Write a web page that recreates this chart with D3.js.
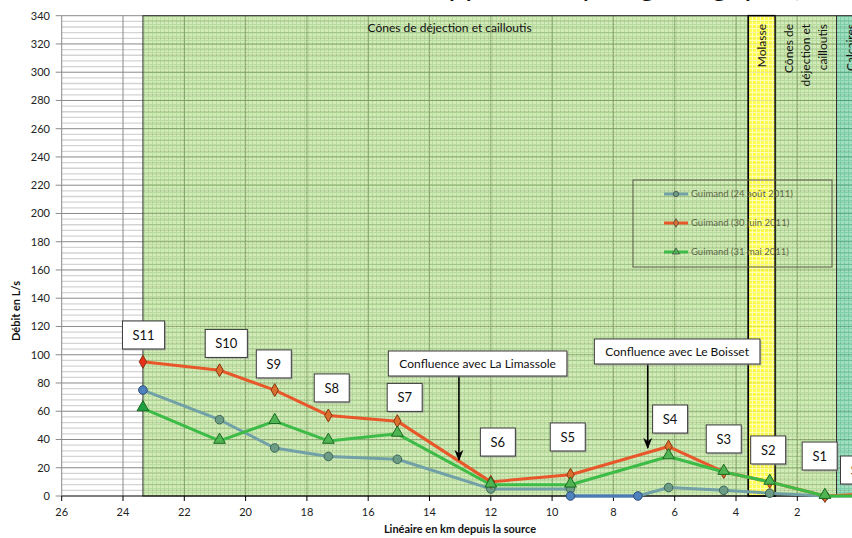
<!DOCTYPE html>
<html>
<head>
<meta charset="utf-8">
<script src="https://cdn.jsdelivr.net/npm/d3@7/dist/d3.min.js"></script>
<style>
  body { margin: 0; background: #fff; }
  svg { display: block; font-family: Lato, "Open Sans", sans-serif; }
</style>
</head>
<body>
<svg id="chart" width="852" height="538"></svg>
<script>
// Data (km from the source, flow in L/s)
var seriesNames = ["Guimand (24 août 2011)", "Guimand (30 juin 2011)", "Guimand (31 mai 2011)"];

var kmAout = [23.35, 20.85, 19.05, 17.3, 15.05, 12.0, 9.4, 9.4, 7.2, 6.2, 4.4, 2.9, 1.1, 0];
var debitAout = [75, 54, 34, 28, 26, 5, 5, 0, 0, 6, 4, 2, 0, 0];

var kmJuin = [23.35, 20.85, 19.05, 17.3, 15.05, 12.0, 9.4, 6.2, 4.4, 2.9, 1.1, 0];
var debitJuin = [95, 89, 75, 57, 53, 10, 15, 35, 17, 10, 0, 1];

var kmMai = [23.35, 20.85, 19.05, 17.3, 15.05, 12.0, 9.4, 6.2, 4.4, 2.9, 1.1, 0];
var debitMai = [62, 39, 53, 39, 44, 8, 8, 28, 17, 10, 0, 0];

// Station labels (position of the boxes, in km / L/s)
var stations = ["S11", "S10", "S9", "S8", "S7", "S6", "S5", "S4", "S3", "S2", "S1", "S0"];
var stationKm = [23.33, 20.63, 19.08, 17.19, 14.81, 11.77, 9.49, 6.15, 4.40, 2.95, 1.27, 0.02];
var stationQ = [114, 108, 93.5, 76.5, 69.8, 38.2, 41.8, 54.5, 40.4, 32.6, 28.3, 18.4];

// Confluences
var confNames = ["Confluence avec La Limassole", "Confluence avec Le Boisset"];
var confBoxKm = [12.43, 5.92];
var confBoxQ = [93.8, 102.3];
var confKm = [13.04, 6.88];
var confQ = [25.5, 34];

// Geology along the river
var zoneLabels = [["Cônes de déjection et cailloutis"], ["Molasse"], ["Cônes de", "déjection et", "cailloutis"], ["Calcaires"]];
var zoneFrom = [23.35, 3.6, 2.72, 0.72];
var zoneTo = [3.6, 2.72, 0.72, -1];

// Axes
var xTicks = [26, 24, 22, 20, 18, 16, 14, 12, 10, 8, 6, 4, 2];
var yTicks = d3.range(0, 341, 20);

var svg = d3.select("#chart");
var x = d3.scaleLinear().domain([26, 0]).range([61.7, 858.6]);
var y = d3.scaleLinear().domain([0, 340]).range([496, 15.7]);

var defs = svg.append("defs");
function addPattern(id, base, line) {
  var p = defs.append("pattern")
    .attr("id", id)
    .attr("width", 4).attr("height", 4)
    .attr("patternUnits", "userSpaceOnUse");
  p.append("rect").attr("width", 4).attr("height", 4).attr("fill", base);
  p.append("path").attr("d", "M0,0.5H4M0.5,0V4")
    .attr("stroke", line).attr("stroke-width", 1);
}
addPattern("pGreen", "#a2d46a", "#66b52e");
addPattern("pYellow", "#ffff1a", "#ffff99");
addPattern("pTeal", "#52c68c", "#18a864");

var arrow = defs.append("marker")
  .attr("id", "arrow")
  .attr("viewBox", "0 0 10 10")
  .attr("refX", 9).attr("refY", 5)
  .attr("markerWidth", 7).attr("markerHeight", 7)
  .attr("orient", "auto");
arrow.append("path").attr("d", "M0,1L10,5L0,9L3,5Z").attr("fill", "#000");

// Gridlines
var grid = svg.append("g");
grid.selectAll(".minor")
  .data(d3.range(4, 340, 4).filter(function(v) { return v % 20 !== 0; }))
  .enter().append("line")
  .attr("x1", x(26)).attr("x2", 852)
  .attr("y1", function(d) { return y(d); }).attr("y2", function(d) { return y(d); })
  .attr("stroke", "#d4d4d4").attr("stroke-width", 1.3);
grid.selectAll(".major")
  .data(yTicks.filter(function(v) { return v > 0; }))
  .enter().append("line")
  .attr("x1", x(26)).attr("x2", 852)
  .attr("y1", function(d) { return y(d); }).attr("y2", function(d) { return y(d); })
  .attr("stroke", "#8a8a8a").attr("stroke-width", 1);
grid.selectAll(".vert")
  .data(xTicks.filter(function(v) { return v < 26; }))
  .enter().append("line")
  .attr("x1", function(d) { return x(d); }).attr("x2", function(d) { return x(d); })
  .attr("y1", y(0)).attr("y2", y(340))
  .attr("stroke", "#8a8a8a").attr("stroke-width", 1);

// Geology zones (semi transparent, gridlines show through)
var zoneFill = ["url(#pGreen)", "url(#pYellow)", "url(#pGreen)", "url(#pTeal)"];
var zoneOpacity = [0.47, 0.75, 0.47, 0.55];
var zones = svg.append("g");
zoneLabels.forEach(function(lbl, i) {
  zones.append("rect")
    .attr("x", x(zoneFrom[i])).attr("y", y(340))
    .attr("width", x(zoneTo[i]) - x(zoneFrom[i]))
    .attr("height", y(0) - y(340))
    .attr("fill", zoneFill[i])
    .attr("opacity", zoneOpacity[i]);
});
zoneLabels.forEach(function(lbl, i) {
  zones.append("rect")
    .attr("x", x(zoneFrom[i])).attr("y", y(340))
    .attr("width", x(zoneTo[i]) - x(zoneFrom[i]))
    .attr("height", y(0) - y(340))
    .attr("fill", "none")
    .attr("stroke", i === 1 ? "#000" : "#333")
    .attr("stroke-width", i === 1 ? 1.6 : 1);
});

// Axes
svg.append("line")
  .attr("x1", x(26)).attr("x2", x(26)).attr("y1", y(0)).attr("y2", y(340))
  .attr("stroke", "#8a8a8a");
svg.append("g").selectAll("line").data(yTicks).enter().append("line")
  .attr("x1", x(26) - 6).attr("x2", x(26))
  .attr("y1", function(d) { return y(d); }).attr("y2", function(d) { return y(d); })
  .attr("stroke", "#8a8a8a");
svg.append("g").selectAll("text").data(yTicks).enter().append("text")
  .attr("x", 50).attr("y", function(d) { return y(d) + 4; })
  .attr("text-anchor", "end")
  .attr("font-size", 11).attr("fill", "#222")
  .text(function(d) { return d; });

svg.append("line")
  .attr("x1", x(26)).attr("x2", 852).attr("y1", y(0)).attr("y2", y(0))
  .attr("stroke", "#000").attr("stroke-width", 1.2);
svg.append("g").selectAll("line").data(xTicks).enter().append("line")
  .attr("x1", function(d) { return x(d); }).attr("x2", function(d) { return x(d); })
  .attr("y1", y(0)).attr("y2", y(0) + 5)
  .attr("stroke", "#000");
svg.append("g").selectAll("text").data(xTicks).enter().append("text")
  .attr("x", function(d) { return x(d); }).attr("y", 516)
  .attr("text-anchor", "middle")
  .attr("font-size", 11).attr("fill", "#222")
  .text(function(d) { return d; });

svg.append("text")
  .attr("x", 460).attr("y", 533)
  .attr("text-anchor", "middle")
  .attr("font-size", 11).attr("font-weight", "bold").attr("fill", "#111")
  .text("Linéaire en km depuis la source");
svg.append("text")
  .attr("transform", "translate(20,311) rotate(-90)")
  .attr("text-anchor", "middle")
  .attr("font-size", 11).attr("font-weight", "bold").attr("fill", "#111")
  .text("Débit en L/s");

// Title (cut by the top edge in the figure, only descenders show)
svg.append("text")
  .attr("x", 580).attr("y", -4)
  .attr("text-anchor", "middle")
  .attr("font-size", 30).attr("fill", "#111")
  .text("Débits du Guimand : approche hydrogéologique (Valdaine, copy),");

// Series
function pts(km, q) {
  return km.map(function(k, i) { return {km: k, q: q[i]}; });
}
var aout = pts(kmAout, debitAout);
var juin = pts(kmJuin, debitJuin);
var mai = pts(kmMai, debitMai);

var line = d3.line()
  .x(function(d) { return x(d.km); })
  .y(function(d) { return y(d.q); });

function upstream(d) { return d.km > 23.2; }
function dry(d) { return d.q === 0 && d.km > 5; }

var plot = svg.append("g");

// 24 août
plot.append("path").attr("d", line(aout))
  .attr("fill", "none").attr("stroke", "#71a0a7").attr("stroke-width", 3)
  .attr("stroke-linejoin", "round");
plot.append("path").attr("d", line(aout.filter(dry)))
  .attr("fill", "none").attr("stroke", "#4a78b8").attr("stroke-width", 3);
plot.selectAll(".ca").data(aout).enter().append("circle")
  .attr("cx", function(d) { return x(d.km); })
  .attr("cy", function(d) { return y(d.q); })
  .attr("r", 4.3)
  .attr("fill", function(d) { return upstream(d) || dry(d) ? "#4f81bd" : "#6c9c86"; })
  .attr("stroke", function(d) { return upstream(d) || dry(d) ? "#2c4d7a" : "#3d6655"; })
  .attr("stroke-width", 1);

// 30 juin
plot.append("path").attr("d", line(juin))
  .attr("fill", "none").attr("stroke", "#e8572a").attr("stroke-width", 3)
  .attr("stroke-linejoin", "round");
plot.selectAll(".cj").data(juin).enter().append("path")
  .attr("transform", function(d) { return "translate(" + x(d.km) + "," + y(d.q) + ")"; })
  .attr("d", d3.symbol(d3.symbolDiamond, 48))
  .attr("fill", function(d) { return upstream(d) ? "#e8301c" : "#d9702e"; })
  .attr("stroke", "#8a3410").attr("stroke-width", 1);

// 31 mai
plot.append("path").attr("d", line(mai))
  .attr("fill", "none").attr("stroke", "#3dbb47").attr("stroke-width", 3)
  .attr("stroke-linejoin", "round");
plot.selectAll(".cm").data(mai).enter().append("path")
  .attr("transform", function(d) { return "translate(" + x(d.km) + "," + (y(d.q) - 1) + ")"; })
  .attr("d", d3.symbol(d3.symbolTriangle, 60))
  .attr("fill", function(d) { return upstream(d) ? "#1fa040" : "#4fb451"; })
  .attr("stroke", "#1d6a24").attr("stroke-width", 1);

// Legend
var legend = svg.append("g");
legend.append("rect")
  .attr("x", 633).attr("y", 180).attr("width", 199).attr("height", 87)
  .attr("fill", "none").attr("stroke", "#5a5a4a").attr("stroke-width", 1);
var legColors = ["#71a0a7", "#e8572a", "#3dbb47"];
var legSymbols = [d3.symbolCircle, d3.symbolDiamond, d3.symbolTriangle];
var legFills = ["#6c9c86", "#d9702e", "#4fb451"];
seriesNames.forEach(function(name, i) {
  var ly = 194 + i * 29;
  legend.append("line")
    .attr("x1", 664).attr("x2", 688).attr("y1", ly).attr("y2", ly)
    .attr("stroke", legColors[i]).attr("stroke-width", 3);
  legend.append("path")
    .attr("transform", "translate(676," + ly + ")")
    .attr("d", d3.symbol(legSymbols[i], 22))
    .attr("fill", legFills[i]).attr("stroke", "#444").attr("stroke-width", 0.7);
  legend.append("text")
    .attr("x", 691).attr("y", ly + 3)
    .attr("font-size", 9.5).attr("fill", "#5d6748")
    .text(name);
});

// Zone labels
var labels = svg.append("g").attr("fill", "#111").attr("font-size", 12);
zoneLabels.forEach(function(lines, i) {
  if (i === 0) {
    labels.append("text")
      .attr("x", (x(zoneFrom[i]) + x(zoneTo[i])) / 2 + 4).attr("y", 32)
      .attr("text-anchor", "middle")
      .text(lines[0]);
    return;
  }
  var cx = i === 3 ? x(zoneFrom[i]) + 14 : (x(zoneFrom[i]) + x(zoneTo[i])) / 2;
  lines.forEach(function(t, j) {
    var lx = cx + 4 + (j - (lines.length - 1) / 2) * 17;
    labels.append("text")
      .attr("transform", "translate(" + lx + ",24) rotate(-90)")
      .attr("text-anchor", "end")
      .text(t);
  });
});

// Station boxes
var notes = svg.append("g");
function box(g, cx, cy, txt, size, padX, h) {
  var t = g.append("text")
    .attr("x", cx).attr("y", cy + size * 0.36)
    .attr("text-anchor", "middle")
    .attr("font-size", size).attr("fill", "#111")
    .text(txt);
  var w = Math.max(35, t.node().getComputedTextLength() + padX * 2);
  g.insert("rect", "text")
    .attr("x", cx - w / 2 + 1.5).attr("y", cy - h / 2 + 1.5)
    .attr("width", w).attr("height", h)
    .attr("fill", "#9a9a9a").attr("opacity", 0.6);
  g.insert("rect", "text")
    .attr("x", cx - w / 2).attr("y", cy - h / 2)
    .attr("width", w).attr("height", h)
    .attr("fill", "#fff").attr("stroke", "#3a3a3a").attr("stroke-width", 1);
}
stations.forEach(function(s, i) {
  box(notes.append("g"), x(stationKm[i]), y(stationQ[i]), s, 13, 10, 28);
});

// Confluences
confNames.forEach(function(c, i) {
  var g = notes.append("g");
  var bx = x(confBoxKm[i]), by = y(confBoxQ[i]);
  g.append("line")
    .attr("x1", x(confKm[i])).attr("x2", x(confKm[i]))
    .attr("y1", by + 12.5).attr("y2", y(confQ[i]))
    .attr("stroke", "#000").attr("stroke-width", 1.6)
    .attr("marker-end", "url(#arrow)");
  box(g, bx, by, c, 12, 11, 25);
});
</script>
</body>
</html>
